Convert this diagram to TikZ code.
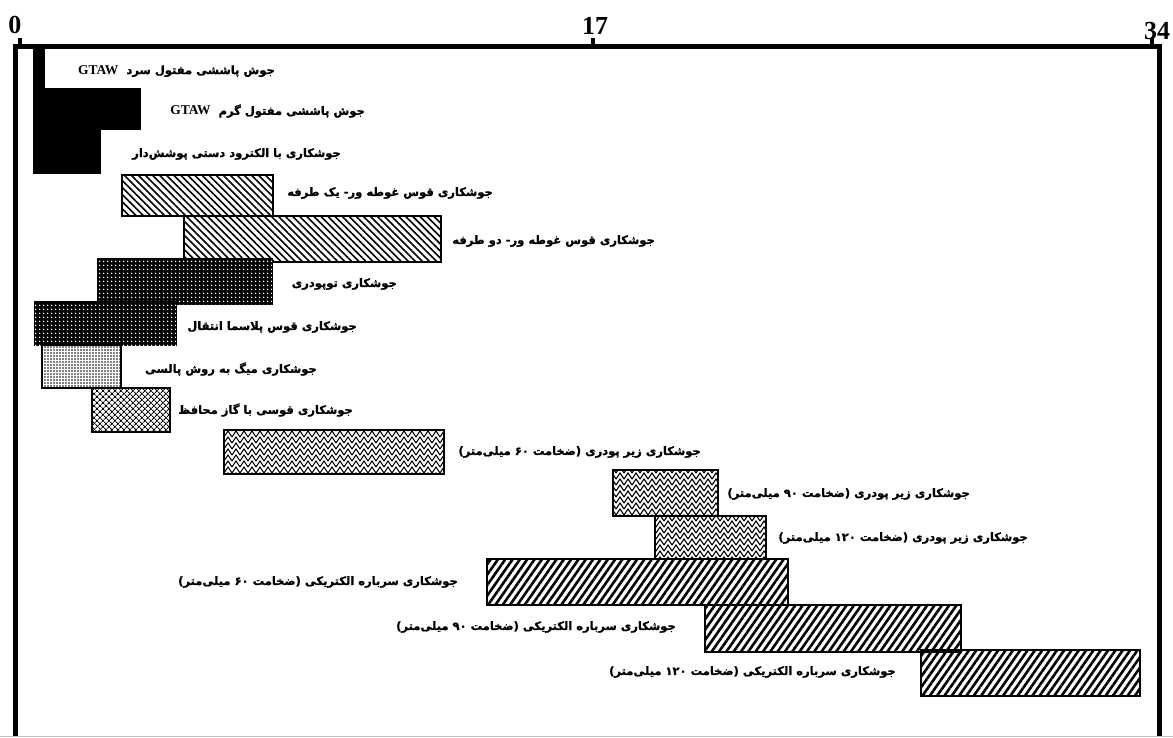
\documentclass[tikz,border=0pt]{standalone}
\usepackage{fontspec}
\setmainfont{Liberation Serif}
\newfontfamily\farsi[Script=Arabic, BoldFeatures={FakeBold=1.2}]{DejaVu Sans}
\TeXXeTstate=1
\usetikzlibrary{patterns,patterns.meta}

% chevron fill for the submerged arc bars
\tikzdeclarepattern{
  name=zigzag,
  type=uncolored,
  bounding box={(-1pt,-1pt) and (9pt,7pt)},
  tile size={(8pt,6pt)},
  code={
    \draw[line width=1.1pt] (0pt,0pt) -- (4pt,6pt) -- (8pt,0pt);
  }
}

\tikzset{
  frame/.style={line width=5pt},
  tick/.style={line width=4pt},
  num/.style={anchor=base, inner sep=0pt, font=\bfseries\fontsize{26}{26}\selectfont},
  lab/.style={anchor=east, inner sep=0pt, font=\farsi\bfseries\fontsize{11.5}{13}\selectfont},
  blackbar/.style={fill=black},
  bar/.style={draw=black, line width=1.8pt},
  sawbar/.style={bar, pattern={Lines[angle=-45,distance=5pt,line width=1.6pt]}},
  fcawbar/.style={bar, fill=black, postaction={pattern={Dots[distance=4pt,radius=1pt]}, pattern color=white}},
  migbar/.style={bar, pattern={Dots[distance=3pt,radius=0.8pt]}},
  gmawbar/.style={bar, pattern={Lines[angle=45,distance=4pt,line width=1pt]},
    postaction={pattern={Lines[angle=-45,distance=4pt,line width=1pt]}}},
  subarcbar/.style={bar, pattern=zigzag},
  eswbar/.style={bar, pattern={Lines[angle=55,distance=6pt,line width=2.6pt]}}
}
\newcommand{\gtawtext}{\beginL{\rmfamily\bfseries\fontsize{13.5}{13.5}\selectfont GTAW}\endL}

\begin{document}
\begin{tikzpicture}[x=1pt,y=-1pt]
  \useasboundingbox (0,0) rectangle (1173,737);

  % axis and frame
  \draw[frame] (15.5,737) -- (15.5,46) -- (1159,46) -- (1159,737);
  \draw[gray!50, line width=1pt] (0,736) -- (1173,736);
  \draw[tick] (20,46) -- (20,38);
  \draw[tick] (593,46) -- (593,38);
  \draw[tick] (1152,46) -- (1152,38);
  \node[num] (n0) at (15,33) {0};
  \node[num] (n17) at (595,34) {17};
  \node[num] (n34) at (1157,39) {34};

  % bars
  \fill[blackbar] (33,48) rectangle (45,88);
  \fill[blackbar] (33,88) rectangle (141,130);
  \fill[blackbar] (33,130) rectangle (101,174);
  \draw[sawbar] (122,175) rectangle (273,216);
  \draw[sawbar] (184,216) rectangle (441,262);
  \draw[fcawbar] (98,259) rectangle (272,304);
  \draw[fcawbar] (35,302) rectangle (176,345);
  \draw[migbar] (42,345) rectangle (121,388);
  \draw[gmawbar] (92,388) rectangle (170,432);
  \draw[subarcbar] (224,430) rectangle (444,474);
  \draw[subarcbar] (613,470) rectangle (718,516);
  \draw[subarcbar] (655,516) rectangle (766,559);
  \draw[eswbar] (487,559) rectangle (788,605);
  \draw[eswbar] (705,605) rectangle (961,652);
  \draw[eswbar] (921,650) rectangle (1140,696);

  % labels
  \node[lab] (l1) at (275,71) {\beginR جوش پاششی مفتول سرد\hspace{8pt}\gtawtext\endR};
  \node[lab] (l2) at (365,111) {\beginR جوش پاششی مفتول گرم\hspace{8pt}\gtawtext\endR};
  \node[lab] (l3) at (341,154) {\beginR جوشکاری با الکترود دستی پوشش‌دار\endR};
  \node[lab] (l4) at (493,193) {\beginR جوشکاری قوس غوطه ور- یک طرفه\endR};
  \node[lab] (l5) at (655,241) {\beginR جوشکاری قوس غوطه ور- دو طرفه\endR};
  \node[lab] (l6) at (397,284) {\beginR جوشکاری توپودری\endR};
  \node[lab] (l7) at (357,327) {\beginR جوشکاری قوس پلاسما انتقال\endR};
  \node[lab] (l8) at (317,369) {\beginR جوشکاری میگ به روش پالسی\endR};
  \node[lab] (l9) at (353,410) {\beginR جوشکاری قوسی با گاز محافظ\endR};
  \node[lab] (l10) at (701,452) {\beginR جوشکاری زیر پودری (ضخامت ۶۰ میلی‌متر)\endR};
  \node[lab] (l11) at (970,494) {\beginR جوشکاری زیر پودری (ضخامت ۹۰ میلی‌متر)\endR};
  \node[lab] (l12) at (1028,538) {\beginR جوشکاری زیر پودری (ضخامت ۱۲۰ میلی‌متر)\endR};
  \node[lab] (l13) at (458,582) {\beginR جوشکاری سرباره الکتریکی (ضخامت ۶۰ میلی‌متر)\endR};
  \node[lab] (l14) at (676,627) {\beginR جوشکاری سرباره الکتریکی (ضخامت ۹۰ میلی‌متر)\endR};
  \node[lab] (l15) at (896,672) {\beginR جوشکاری سرباره الکتریکی (ضخامت ۱۲۰ میلی‌متر)\endR};
\end{tikzpicture}
\end{document}
